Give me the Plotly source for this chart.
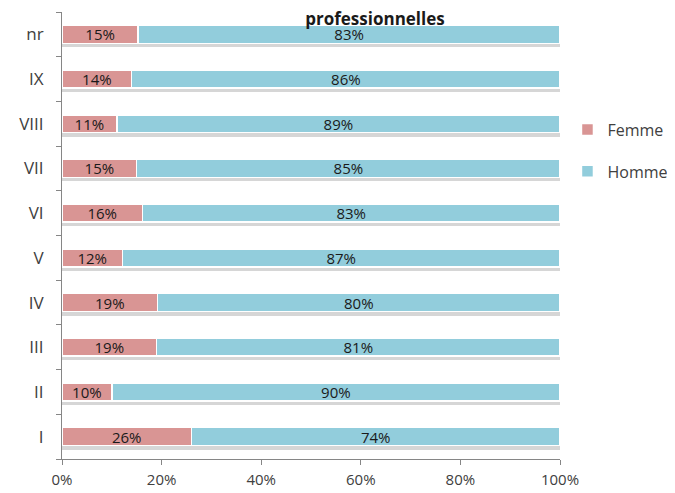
import plotly.graph_objects as go

categories = ["I", "II", "III", "IV", "V", "VI", "VII", "VIII", "IX", "nr"]
femme = [26, 10, 19, 19, 12, 16, 15, 11, 14, 15]
homme = [74, 90, 81, 80, 87, 83, 85, 89, 86, 83]
x_ticks = [0, 20, 40, 60, 80, 100]
x_tick_labels = ["0%", "20%", "40%", "60%", "80%", "100%"]

FONT = "Open Sans"
OFF = 8  # page body margin offset
W, H = 675 - OFF, 493 - OFF
fig = go.Figure()
# soft drop shadow under each bar (total of both series)
fig.add_trace(go.Bar(
    y=categories, x=[f + h for f, h in zip(femme, homme)], orientation="h",
    marker=dict(color="rgba(0,0,0,0.16)", line=dict(width=0)),
    width=0.4, offset=-0.29, showlegend=False, hoverinfo="skip",
    yaxis="y",
))
fig.add_trace(go.Bar(
    y=categories, x=femme, name="Femme", orientation="h",
    marker=dict(color="#D99594", line=dict(color="white", width=1.5)),
    text=[f"{v}%" for v in femme], textposition="inside", insidetextanchor="middle",
    constraintext="none", width=0.4,
    textfont=dict(color="#1a1a1a", size=15, family=FONT),
    legendgroup="f", yaxis="y2",
))
fig.add_trace(go.Bar(
    y=categories, x=homme, name="Homme", orientation="h",
    marker=dict(color="#92CDDC", line=dict(color="white", width=1.5)),
    text=[f"{v}%" for v in homme], textposition="inside", insidetextanchor="middle",
    constraintext="none", width=0.4,
    textfont=dict(color="#1a1a1a", size=15, family=FONT),
    legendgroup="h", yaxis="y2",
))

fig.update_layout(
    width=W, height=H,
    barmode="stack", barnorm="percent",
    paper_bgcolor="white", plot_bgcolor="white",
    margin=dict(l=62 - OFF, r=W + OFF - 560, t=12 - OFF, b=H + OFF - 459, autoexpand=False),
    font=dict(family=FONT, color="#404040", size=16),
    title=dict(text="<b>professionnelles</b>", x=(375 - OFF) / W, xanchor="center",
               y=1 - (19 - OFF) / H, yanchor="middle", yref="container",
               font=dict(size=17, color="#1a1a1a", family=FONT)),
    legend=dict(x=1.015, xanchor="left", y=0.775, yanchor="top",
                traceorder="grouped", tracegroupgap=18,
                font=dict(size=16, color="#404040", family=FONT)),
    uniformtext=dict(mode=False),
    yaxis2=dict(overlaying="y", visible=False, type="category",
                categoryorder="array", categoryarray=categories, range=[-0.5, 9.5]),
)
fig.update_xaxes(range=[0, 100], tickvals=x_ticks, ticktext=x_tick_labels,
                 automargin=False,
                 showgrid=False, zeroline=False, showline=True, linecolor="#868686",
                 ticks="outside", ticklen=5, tickcolor="#868686",
                 ticklabelstandoff=2, tickfont=dict(size=15, color="#404040"))
fig.update_layout(yaxis=dict(automargin=False, type="category",
                 categoryorder="array", categoryarray=categories, range=[-0.5, 9.5],
                 showgrid=False, zeroline=False, showline=True, linecolor="#868686",
                 ticks="outside", ticklen=5, tickcolor="#868686", tickson="boundaries",
                 ticklabelstandoff=14, tickfont=dict(size=17, color="#404040")))

fig.write_html("out.html")
